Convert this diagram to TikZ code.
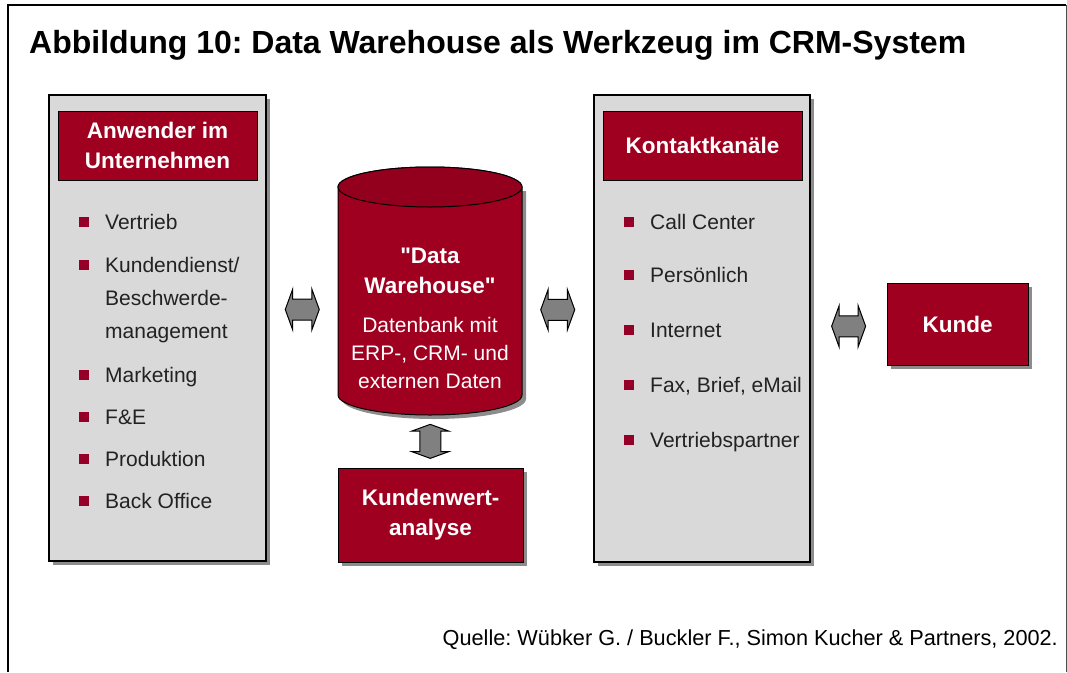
\documentclass[tikz,border=0pt]{standalone}
\usepackage{fontspec}
\setmainfont{Liberation Sans}[Ligatures=TeXOff]
\usetikzlibrary{shapes.arrows,shadows,calc}
\frenchspacing

\definecolor{crmred}{RGB}{160,0,32}
\definecolor{bulletred}{RGB}{150,0,40}
\definecolor{panelgray}{RGB}{217,217,217}
\definecolor{listtext}{RGB}{34,34,34}
\definecolor{arrowgray}{RGB}{128,128,128}
\definecolor{shadowgray}{RGB}{140,140,140}

\tikzset{
  x=1pt, y=-1pt,
  panel/.style={draw=black, line width=1.5pt, fill=panelgray, inner sep=0pt,
    drop shadow={shadow xshift=4pt, shadow yshift=-4pt, fill=shadowgray, opacity=1}},
  headbox/.style={draw=black, line width=1pt, fill=crmred, text=white, inner sep=0pt,
    font=\fontsize{22.5}{30}\selectfont\bfseries, align=center},
  redbox/.style={headbox,
    drop shadow={shadow xshift=4pt, shadow yshift=-4pt, fill=shadowgray, opacity=1}},
  bulletsq/.style={fill=bulletred, minimum size=10pt, inner sep=0pt},
  itemtext/.style={anchor=base west, inner sep=0pt, text=listtext,
    font=\fontsize{21}{33}\selectfont},
  dblarrow/.style={double arrow, draw=black, line width=1pt, fill=arrowgray,
    inner sep=10pt, minimum height=34pt, minimum width=40pt,
    double arrow head extend=10pt, double arrow tip angle=140},
}

\begin{document}
\begin{tikzpicture}
\useasboundingbox (0,0) rectangle (1067,672);

% outer frame
\coordinate (fbl) at (8,672);
\coordinate (ftl) at (8,5);
\coordinate (ftr) at (1066,5);
\coordinate (fbr) at (1066,672);
\draw[line width=2pt] (fbl) -- (ftl) -- (ftr);
\draw[line width=1pt, black!70] (ftr) -- (fbr);

% title
\node (title) [anchor=base west, inner sep=0pt, font=\fontsize{32}{36}\selectfont\bfseries]
  at (29,53) {Abbildung 10: Data Warehouse als Werkzeug im CRM-System};

% left panel: users in the company
\node (left) [panel, minimum width=217pt, minimum height=466pt] at (157.5,328) {};
\node (lhead) [headbox, minimum width=199pt, minimum height=69pt] at (157.5,145.5)
  {Anwender im\\Unternehmen};
\foreach \y [count=\i] in {222,265,375,417,459,501}
  \node (lb\i) [bulletsq] at (84,\y) {};
\foreach \t/\y [count=\i] in {Vertrieb/222, Kundendienst\slash/265, Beschwerde-/298,
    management/331, Marketing/375, F\&E/417, Produktion/459, Back Office/501}
  \node (lt\i) [itemtext] at (105,\y+7.5) {\t};

% right panel: contact channels
\node (right) [panel, minimum width=216pt, minimum height=467pt] at (702,328.5) {};
\node (rhead) [headbox, minimum width=199pt, minimum height=69pt] at (702.5,145.5)
  {Kontaktkanäle};
\foreach \t/\y [count=\i] in {Call Center/222, Persönlich/275, Internet/330,
    {Fax, Brief, eMail}/385, Vertriebspartner/440}{
  \node (rb\i) [bulletsq] at (629,\y) {};
  \node (rt\i) [itemtext] at (650,\y+7.5) {\t};
}

% data warehouse cylinder
\node (cyl) [minimum width=184pt, minimum height=248pt, inner sep=0pt] at (430,291) {};
\fill[shadowgray] (342,191) -- (342,399)
  arc[start angle=180, end angle=0, x radius=92, y radius=20] -- (526,191) -- cycle;
\filldraw[fill=crmred, draw=black, line width=1pt] (338,187) -- (338,395)
  arc[start angle=180, end angle=0, x radius=92, y radius=20] -- (522,187)
  arc[start angle=0, end angle=-180, x radius=92, y radius=20] -- cycle;
\filldraw[fill=crmred!92!black, draw=black, line width=1pt]
  (430,187) ellipse[x radius=92, y radius=20];
\node (cylhead) [text=white, align=center, inner sep=0pt,
  font=\fontsize{22.5}{30}\selectfont\bfseries] at (430,271) {"Data\\Warehouse"};
\node (cylbody) [text=white, align=center, inner sep=0pt,
  font=\fontsize{21}{28}\selectfont] at (430,353) {Datenbank mit\\ERP-, CRM- und\\externen Daten};

% customer value analysis
\node (kwa) [redbox, minimum width=185pt, minimum height=94pt] at (430.5,515)
  {Kundenwert-\\analyse};

% customer
\node (kunde) [redbox, minimum width=141pt, minimum height=82pt] at (957.5,324) {Kunde};

% bidirectional block arrows between the parts
\node (a1) [dblarrow] at ($(left.east)!0.5!(cyl.west)$ |- 0,323) {};
\node (a2) [dblarrow] at ($(cyl.east)!0.5!(right.west)$ |- 0,323) {};
\node (a3) [dblarrow] at ($(right.east)!0.5!(kunde.west)$ |- 0,323) {};
\node (a4) [dblarrow, shape border rotate=90, minimum width=36pt, double arrow head extend=8pt]
  at ($(cyl.south)!0.5!(kwa.north)$) {};

% source
\node (src) [anchor=base east, inner sep=0pt, font=\fontsize{21.7}{26}\selectfont]
  at (1058,645) {Quelle: Wübker G. / Buckler F., Simon Kucher \& Partners, 2002.};
\end{tikzpicture}
\end{document}
